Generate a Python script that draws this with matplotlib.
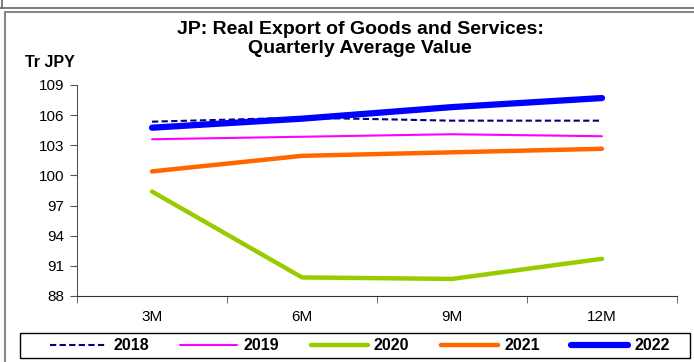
import matplotlib.pyplot as plt
from matplotlib.patches import Rectangle
from matplotlib.lines import Line2D

plt.rcParams['font.family'] = ['Liberation Sans', 'DejaVu Sans']

periods = ['3M', '6M', '9M', '12M']
years = ['2018', '2019', '2020', '2021', '2022']
v2018 = [105.35, 105.75, 105.45, 105.45]
v2019 = [103.6, 103.85, 104.1, 103.9]
v2020 = [98.4, 89.85, 89.7, 91.7]
v2021 = [100.4, 101.95, 102.3, 102.65]
v2022 = [104.75, 105.65, 106.8, 107.7]
yticks = [88, 91, 94, 97, 100, 103, 106, 109]

W, H = 694, 362
fig = plt.figure(figsize=(W / 100, H / 100), dpi=100)
ax = fig.add_axes([77/W, 1-296/H, 600/W, 211/H])

x = range(len(periods))
ax.plot(x, v2018, color='#000080', lw=1.5, ls=(0, (3, 1.6)), label=years[0])
ax.plot(x, v2019, color='#FF00FF', lw=1.5, label=years[1], solid_capstyle='round')
ax.plot(x, v2020, color='#99CC00', lw=3.2, label=years[2], solid_capstyle='round')
ax.plot(x, v2021, color='#FF6600', lw=3.2, label=years[3], solid_capstyle='round')
ax.plot(x, v2022, color='#0000FF', lw=4.5, label=years[4], solid_capstyle='round')

ax.set_xlim(-0.5, 3.5)
ax.set_ylim(88, 109)
ax.set_yticks(yticks)
ax.set_xticks(list(x))
ax.set_xticklabels(periods)
ax.set_xticks([-0.5, 0.5, 1.5, 2.5, 3.5], minor=True)
ax.tick_params(axis='x', which='major', length=0, pad=10, labelsize=11)
ax.tick_params(axis='x', which='minor', length=5, direction='out', color='#555555')
ax.tick_params(axis='y', length=5, direction='out', color='#555555', labelsize=11, pad=4)
for s in ['top', 'right']:
    ax.spines[s].set_visible(False)
ax.spines['left'].set_color('#555555')
ax.spines['bottom'].set_color('#333333')

# title and unit label
fig.text(360/W, 1-34/H, 'JP: Real Export of Goods and Services:', ha='center', va='baseline',
         fontsize=14, fontweight='bold')
fig.text(360/W, 1-53/H, 'Quarterly Average Value', ha='center', va='baseline',
         fontsize=14, fontweight='bold')
fig.text(25/W, 1-67/H, 'Tr JPY', ha='left', va='baseline', fontsize=11.5, fontweight='bold')

# legend (frame drawn separately)
fig.legend(loc='center', bbox_to_anchor=(360/W, 1-346/H), ncol=5, frameon=False,
           handlelength=3.56, columnspacing=1.97, handletextpad=0.4, borderpad=0.2,
           prop={'weight': 'bold', 'size': 11.5})
fig.patches.append(Rectangle((20/W, 1-358/H), 670/W, 25/H, transform=fig.transFigure,
                             fill=False, edgecolor='black', lw=1.0))

# outer chart frames
fig.patches.append(Rectangle((5/W, -0.01), 700/W, 1-12/H+0.01, transform=fig.transFigure,
                             fill=False, edgecolor='#888888', lw=1.5))
fig.lines.append(Line2D([0, 1], [1-8/H, 1-8/H], transform=fig.transFigure,
                        color='#666666', lw=1.2))
fig.lines.append(Line2D([2/W, 2/W], [1-8/H, 1], transform=fig.transFigure,
                        color='#666666', lw=1.2))

plt.savefig('out.png', dpi=100)
